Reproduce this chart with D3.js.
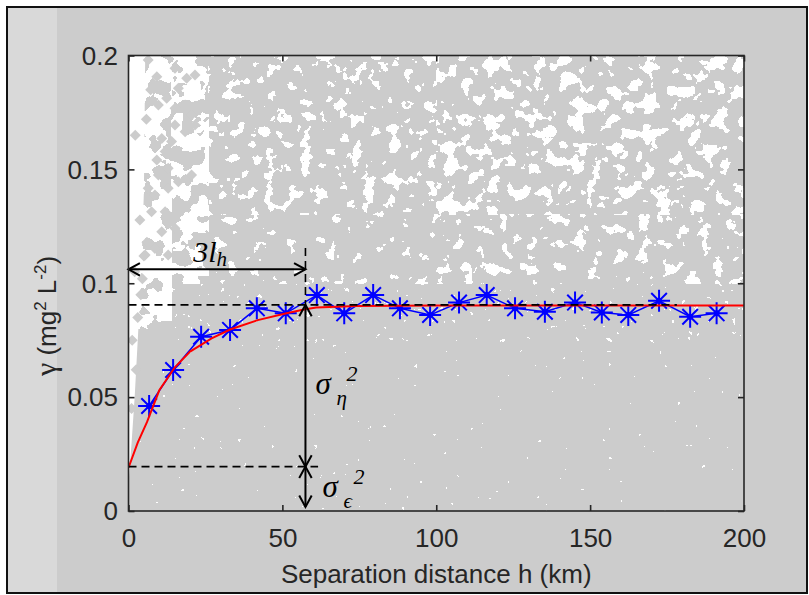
<!DOCTYPE html>
<html>
<head>
<meta charset="utf-8">
<script src="https://cdn.jsdelivr.net/npm/d3@7"></script>
<style>
  body { margin: 0; background: #ffffff; }
  svg { display: block; }
</style>
</head>
<body>
<svg id="chart" width="809" height="595"></svg>
<script>
// ---- Empirical semivariogram: lag centres (km) and semivariance (mg² L⁻²)
const lagH = [6.7, 14.5, 23.6, 33.0, 41.7, 51.1, 61.2, 70.1, 79.5, 88.2, 98.0,
              107.4, 116.4, 125.6, 135.3, 145.1, 153.8, 162.4, 172.4, 182.5, 191.1];
const lagGamma = [0.0461, 0.0619, 0.0765, 0.0795, 0.0890, 0.0868, 0.0948, 0.0868, 0.0948, 0.0890, 0.0861,
                  0.0915, 0.0948, 0.0890, 0.0875, 0.0915, 0.0872, 0.0861, 0.0923, 0.0853, 0.0868];

// ---- Fitted exponential model, sampled along h
const modelH = [0, 3, 6, 10, 15, 20, 27, 33, 42, 51, 57, 61, 74, 100, 150, 200];
const modelGamma = [0.019, 0.030, 0.039, 0.053, 0.063, 0.070, 0.0758, 0.0797, 0.0838, 0.0867,
                    0.0885, 0.0893, 0.0900, 0.0902, 0.0902, 0.0902];

// ---- Model parameters marked on the plot
const nugget = 0.0195;       // sigma_eps^2
const sill = 0.0905;         // nugget + sigma_eta^2
const practicalRange = 57.5; // 3 l_h (km)

// ---- Variogram cloud: upper edge of the densely covered region
const cloudH = [0, 1, 2, 3, 4, 5, 5.5, 200];
const cloudTop = [0.012, 0.03, 0.05, 0.075, 0.10, 0.14, 0.21, 0.21];

// ---- Variogram cloud: isolated pairs outside the dense region
const pairH = [6.4, 9.2, 15.1, 18.9, 16.2, 21.6, 12.4, 9.7, 15.1, 18.4,
               20.5, 21.6, 18.4, 15.1, 10.8, 14.0, 9.2, 11.9, 16.2, 12.9,
               9.7, 6.4, 8.6, 12.9, 16.2, 20.5, 3.7, 7.5, 11.9, 16.2,
               10.8, 15.1, 8.6, 12.9, 5.4, 2.0, 4.0, 3.0, 1.2, 5.0,
               2.5, 1.0, 4.5, 3.2, 6.0, 2.2, 5.8, 7.2];
const pairGamma = [0.198, 0.1907, 0.1944, 0.190, 0.1856, 0.1914, 0.1812, 0.1783, 0.1768, 0.1783,
                   0.1739, 0.1695, 0.1665, 0.1695, 0.1636, 0.1622, 0.1541, 0.1578, 0.1563, 0.1505,
                   0.1475, 0.1417, 0.1387, 0.1417, 0.1446, 0.1475, 0.1278, 0.1314, 0.1314, 0.1344,
                   0.1226, 0.1241, 0.1153, 0.1124, 0.1124, 0.105, 0.095, 0.085, 0.075, 0.112,
                   0.062, 0.045, 0.102, 0.035, 0.118, 0.165, 0.172, 0.185];

// ---- Open space between cloud pairs, by zone (h range, gamma range):
//      noise level above which the space stays open, and grain of the openings
const gapZoneH0 = [3, 14, 26, 100, 26, 100, 14, 3];
const gapZoneH1 = [14, 26, 100, 200, 100, 200, 200, 200];
const gapZoneLo = [0.08, 0.10, 0.13, 0.13, 0.10, 0.10, 0.075, 0.0];
const gapZoneHi = [0.2, 0.2, 0.2, 0.2, 0.13, 0.13, 0.10, 0.075];
const gapZoneCut = [0.44, 0.49, 0.62, 0.575, 0.68, 0.63, 0.77, 0.82];
const gapZoneGrain = [0.05, 0.06, 0.08, 0.07, 0.08, 0.08, 0.16, 0.16];

// ---- Axis ticks
const xTicks = [0, 50, 100, 150, 200];
const xTickLabels = ["0", "50", "100", "150", "200"];
const yTicks = [0, 0.05, 0.1, 0.15, 0.2];
const yTickLabels = ["0", "0.05", "0.1", "0.15", "0.2"];

// ================= drawing =================
const svg = d3.select("#chart");
const sans = "'Liberation Sans', Arial, Helvetica, sans-serif";
const serif = "'Liberation Serif', 'DejaVu Serif', serif";
const ink = "#262626";

const x = d3.scaleLinear().domain([0, 200]).range([128.5, 744]);
const y = d3.scaleLinear().domain([0, 0.2]).range([511, 55.5]);
const [px0, px1] = x.range();
const [py1, py0] = y.range();

// figure background with its lighter left margin and frame
svg.append("rect").attr("x", 7).attr("y", 7).attr("width", 800).attr("height", 586).attr("fill", "#cccccc");
svg.append("rect").attr("x", 7).attr("y", 7).attr("width", 50).attr("height", 586).attr("fill", "#d9d9d9");
svg.append("rect").attr("x", 7).attr("y", 7).attr("width", 800).attr("height", 586)
  .attr("fill", "none").attr("stroke", "#111").attr("stroke-width", 2);

const defs = svg.append("defs");
defs.append("clipPath").attr("id", "plotClip")
  .append("rect").attr("x", px0).attr("y", py0).attr("width", px1 - px0).attr("height", py1 - py0);

// axes background
svg.append("rect").attr("x", px0).attr("y", py0).attr("width", px1 - px0).attr("height", py1 - py0)
  .attr("fill", "#ffffff");

const plot = svg.append("g").attr("clip-path", "url(#plotClip)");

// dense part of the variogram cloud
const cloudArea = d3.area().x(d => x(d[0])).y0(y(0)).y1(d => y(d[1])).curve(d3.curveLinear);
plot.append("path").datum(d3.zip(cloudH, cloudTop)).attr("d", cloudArea).attr("fill", "#cccccc");

// open space between the cloud's diamond markers (thresholded noise field per zone)
function thresholdTable(cut) {
  const n = 100, k0 = Math.round(cut * n);
  return d3.range(n).map(k => (k >= k0 ? 1 : 0)).join(" ");
}
gapZoneH0.forEach((h0, i) => {
  const zx = x(h0), zw = x(gapZoneH1[i]) - zx;
  const zy = y(gapZoneHi[i]), zh = y(gapZoneLo[i]) - zy;
  const f = defs.append("filter").attr("id", "gap" + i)
    .attr("filterUnits", "userSpaceOnUse").attr("primitiveUnits", "userSpaceOnUse")
    .attr("x", zx).attr("y", zy).attr("width", zw).attr("height", zh)
    .attr("color-interpolation-filters", "sRGB");
  f.append("feTurbulence").attr("type", "fractalNoise")
    .attr("baseFrequency", gapZoneGrain[i]).attr("numOctaves", 3).attr("seed", 11);
  f.append("feColorMatrix").attr("type", "matrix")
    .attr("values", "0 0 0 0 1  0 0 0 0 1  0 0 0 0 1  1 0 0 0 0");
  f.append("feComponentTransfer").append("feFuncA").attr("type", "discrete")
    .attr("tableValues", thresholdTable(gapZoneCut[i]));
  plot.append("rect").attr("x", zx).attr("y", zy).attr("width", zw).attr("height", zh)
    .attr("fill", "#ffffff").attr("filter", `url(#gap${i})`);
});

// isolated cloud pairs (diamond markers)
plot.append("g").selectAll("path").data(d3.zip(pairH, pairGamma)).join("path")
  .attr("transform", d => `translate(${x(d[0])},${y(d[1])})`)
  .attr("d", "M0,-5.5L5.5,0L0,5.5L-5.5,0Z").attr("fill", "#cccccc");

// empirical semivariogram: line + asterisks
const lagPts = d3.zip(lagH, lagGamma);
plot.append("path").datum(lagPts)
  .attr("d", d3.line().x(d => x(d[0])).y(d => y(d[1])))
  .attr("fill", "none").attr("stroke", "#0000ff").attr("stroke-width", 1.5);
const r = 11, rd = 7.8;
const starPath = `M${-r},0H${r}M0,${-r}V${r}M${-rd},${-rd}L${rd},${rd}M${-rd},${rd}L${rd},${-rd}`;
const stars = plot.append("g").selectAll("g").data(lagPts).join("g")
  .attr("transform", d => `translate(${x(d[0])},${y(d[1])})`);
stars.append("path").attr("d", starPath).attr("stroke", "#0000ff").attr("stroke-width", 2).attr("fill", "none");
stars.append("circle").attr("r", 3).attr("fill", "#0000ff");

// fitted model
plot.append("path").datum(d3.zip(modelH, modelGamma))
  .attr("d", d3.line().x(d => x(d[0])).y(d => y(d[1])))
  .attr("fill", "none").attr("stroke", "#ff0000").attr("stroke-width", 2);

// parameter guides
const ann = svg.append("g").attr("stroke", "#000").attr("fill", "none");
const dashed = (x1, y1, x2, y2) => ann.append("line")
  .attr("x1", x1).attr("y1", y1).attr("x2", x2).attr("y2", y2)
  .attr("stroke-width", 1.6).attr("stroke-dasharray", "8,5");
dashed(x(0), y(sill), x(178.2), y(sill));
dashed(x(0), y(nugget), x(61.6), y(nugget));
dashed(x(practicalRange), y(0.1155), x(practicalRange), y(sill));

function arrowLine(x1, y1, x2, y2) {
  ann.append("line").attr("x1", x1).attr("y1", y1).attr("x2", x2).attr("y2", y2).attr("stroke-width", 2);
  const heads = [[x1, y1, x2, y2], [x2, y2, x1, y1]];
  heads.forEach(([tx, ty, fx, fy]) => {
    const a = Math.atan2(fy - ty, fx - tx), L = 13, s = 0.5;
    const p1 = [tx + L * Math.cos(a + s), ty + L * Math.sin(a + s)];
    const p2 = [tx + L * Math.cos(a - s), ty + L * Math.sin(a - s)];
    ann.append("path").attr("d", `M${p1}L${tx},${ty}L${p2}`).attr("stroke-width", 2)
      .attr("stroke-linejoin", "miter");
  });
}
arrowLine(x(0), y(0.1061), x(practicalRange), y(0.1061));
arrowLine(x(practicalRange), y(sill), x(practicalRange), y(nugget));
arrowLine(x(practicalRange), y(nugget), x(practicalRange), y(0.0018));

// parameter labels
const t1 = svg.append("text").attr("x", x(21)).attr("y", y(0.1061) - 7)
  .style("font-family", serif).style("font-style", "italic").style("font-size", "30px").attr("fill", "#000");
t1.append("tspan").text("3l");
t1.append("tspan").attr("dy", 4).style("font-size", "21px").text("h");

function sigmaLabel(xs, ys, sub) {
  const g = svg.append("g").style("font-family", serif).style("font-style", "italic").attr("fill", "#000");
  g.append("text").attr("x", xs).attr("y", ys).style("font-size", "31px").text("σ");
  g.append("text").attr("x", xs + 21).attr("y", ys + 11).style("font-size", "21px").text(sub);
  g.append("text").attr("x", xs + 31).attr("y", ys - 13).style("font-size", "22px").text("2");
}
sigmaLabel(x(practicalRange) + 10, 394, "η");
sigmaLabel(x(practicalRange) + 17, 497, "ϵ");

// axes box with inward ticks
const axes = svg.append("g");
axes.append("rect").attr("x", px0).attr("y", py0).attr("width", px1 - px0).attr("height", py1 - py0)
  .attr("fill", "none").attr("stroke", ink).attr("stroke-width", 1.6);

const tickStyle = sel => {
  sel.select(".domain").remove();
  sel.selectAll(".tick line").attr("stroke", ink).attr("stroke-width", 1.6);
  sel.selectAll("text").style("font-family", sans).style("font-size", "26px").attr("fill", ink);
};
axes.append("g").attr("transform", `translate(0,${py1})`)
  .call(d3.axisBottom(x).tickValues(xTicks).tickFormat((d, i) => xTickLabels[i]).tickSize(-6))
  .call(tickStyle)
  .call(g => g.selectAll("text").attr("y", 36).attr("dy", 0));
axes.append("g").attr("transform", `translate(0,${py0})`)
  .call(d3.axisTop(x).tickValues(xTicks).tickFormat("").tickSize(-6)).call(tickStyle);
axes.append("g").attr("transform", `translate(${px0},0)`)
  .call(d3.axisLeft(y).tickValues(yTicks).tickFormat((d, i) => yTickLabels[i]).tickSize(-6))
  .call(tickStyle)
  .call(g => g.selectAll("text").attr("x", -10.5).attr("dy", "0.34em"));
axes.append("g").attr("transform", `translate(${px1},0)`)
  .call(d3.axisRight(y).tickValues(yTicks).tickFormat("").tickSize(-6)).call(tickStyle);

// axis titles
svg.append("text").attr("x", (px0 + px1) / 2).attr("y", 583).attr("text-anchor", "middle")
  .style("font-family", sans).style("font-size", "26px").attr("fill", ink)
  .text("Separation distance h (km)");

const yl = svg.append("text").attr("transform", "translate(56,316) rotate(-90)")
  .attr("text-anchor", "middle").style("font-family", sans).style("font-size", "26px").attr("fill", ink);
yl.append("tspan").style("font-family", serif).style("font-size", "30px").text("γ");
yl.append("tspan").text(" (mg");
yl.append("tspan").attr("dy", -10).style("font-size", "17px").text("2");
yl.append("tspan").attr("dy", 10).text(" L");
yl.append("tspan").attr("dy", -10).style("font-size", "17px").text("-2");
yl.append("tspan").attr("dy", 10).text(")");
</script>
</body>
</html>
